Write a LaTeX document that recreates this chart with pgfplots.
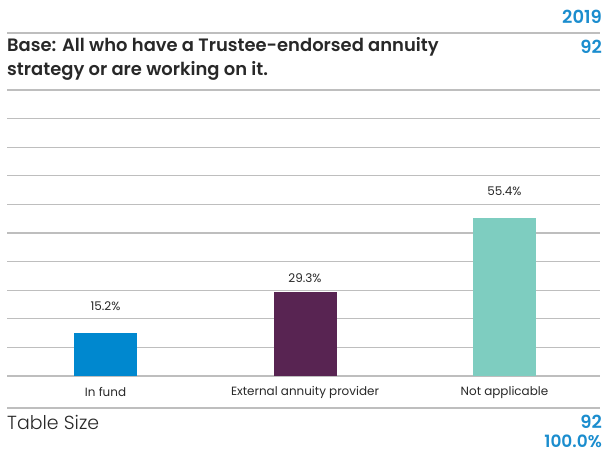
\documentclass[border=0pt]{standalone}
\usepackage{fontspec}
\setmainfont{Poppins}[BoldFont={Poppins SemiBold}]
\newfontfamily\lightfont{Poppins Light}
\usepackage{pgfplots}
\pgfplotsset{compat=1.18}
\definecolor{cblue}{RGB}{0,136,207}
\definecolor{cpurple}{RGB}{88,36,82}
\definecolor{cteal}{RGB}{126,205,192}
\definecolor{tblue}{RGB}{27,141,206}
\definecolor{tdark}{RGB}{40,40,40}
\definecolor{gline}{RGB}{190,190,190}
\begin{document}
\begin{tikzpicture}[x=1bp,y=-1bp]
\useasboundingbox (0,0) rectangle (605,453);
\begin{axis}[
  at={(7bp,-376bp)}, anchor=south west,
  scale only axis, width=593bp, height=286bp,
  xmin=-0.494, xmax=2.479, ymin=0, ymax=100,
  axis line style={draw=none},
  ytick={0,10,...,100}, yticklabels={},
  ymajorgrids, grid style={gline, line width=1.1bp},
  major tick length=0pt,
  xtick={0,1,2},
  xticklabels={In fund, External annuity provider, Not applicable},
  xticklabel style={font=\fontsize{12}{14}\selectfont, text=tdark, anchor=center, yshift=-16bp},
  ybar, bar width=63bp, bar shift=0pt,
  clip=false,
]
\addplot[fill=cblue, draw=none] coordinates {(0,15.2)};
\addplot[fill=cpurple, draw=none] coordinates {(1,29.3)};
\addplot[fill=cteal, draw=none] coordinates {(2,55.4)};
\node[font=\fontsize{12}{14}\selectfont, text=tdark] at (axis cs:0,24.5) {15.2\%};
\node[font=\fontsize{12}{14}\selectfont, text=tdark] at (axis cs:1,34.3) {29.3\%};
\node[font=\fontsize{12}{14}\selectfont, text=tdark] at (axis cs:2,64.7) {55.4\%};
\end{axis}
\draw[gline, line width=1.1bp] (7,33) -- (600,33);
\draw[gline, line width=1.1bp] (7,408) -- (600,408);
\node[anchor=east, font=\bfseries\fontsize{18}{20}\selectfont, text=tblue, inner sep=0pt] at (602,17) {2019};
\node[anchor=east, font=\bfseries\fontsize{18}{20}\selectfont, text=tblue, inner sep=0pt] at (602,47) {92};
\node[anchor=west, font=\bfseries\fontsize{18}{20}\selectfont, text=tdark, inner sep=0pt] at (7,47) {Base: All who have a Trustee-endorsed annuity};
\node[anchor=west, font=\bfseries\fontsize{18}{20}\selectfont, text=tdark, inner sep=0pt] at (7,71) {strategy or are working on it.};
\node[anchor=west, font=\lightfont\fontsize{19}{21}\selectfont, text=tdark, inner sep=0pt] at (7,422) {Table Size};
\node[anchor=east, font=\bfseries\fontsize{18}{20}\selectfont, text=tblue, inner sep=0pt] at (602,422) {92};
\node[anchor=east, font=\bfseries\fontsize{17}{19}\selectfont, text=tblue, inner sep=0pt] at (602,441) {100.0\%};
\end{tikzpicture}
\end{document}
